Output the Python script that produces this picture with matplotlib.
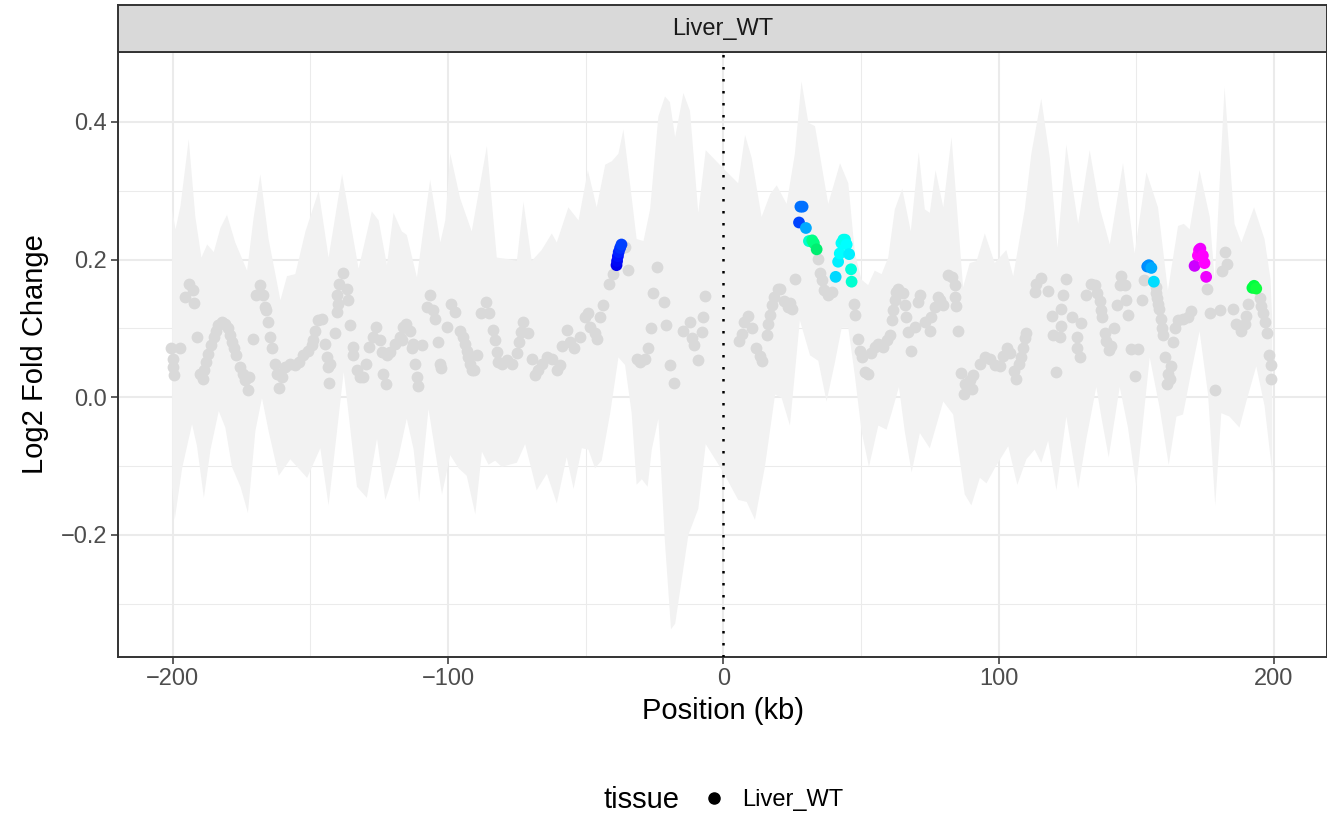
import numpy as np
import matplotlib.pyplot as plt
from matplotlib.lines import Line2D

plt.rcParams['font.family'] = ['Liberation Sans', 'DejaVu Sans']

# ribbon (confidence band)
up_kb = [-200.2, -199.0, -197.2, -194.2, -191.8, -189.6, -187.5, -185.1, -182.7, -180.3, -177.3, -173.0,
         -170.6, -168.2, -165.2, -160.9, -158.5, -155.5, -151.8, -147.0, -143.4, -138.5, -132.5, -127.7,
         -125.2, -122.2, -119.8, -116.8, -115.0, -111.3, -108.9, -106.5, -102.8, -101.0, -99.2, -95.6,
         -91.4, -85.9, -82.3, -78.6, -75.0, -72.6, -69.6, -66.0, -62.3, -60.5, -56.3, -52.6, -49.2, -46.0,
         -42.9, -40.5, -38.1, -36.3, -33.9, -31.5, -29.0, -26.6, -23.6, -21.2, -19.4, -17.5, -14.5, -12.1,
         -9.1, -6.4, -0.6, 5.4, 7.9, 10.3, 13.9, 17.0, 19.4, 23.0, 26.0, 28.4, 30.9, 33.3, 38.1, 42.4, 45.4,
         47.8, 50.2, 52.6, 55.0, 57.5, 59.9, 62.3, 65.0, 68.1, 71.0, 73.2, 75.0, 77.1, 79.9, 82.9, 87.1,
         89.5, 92.0, 95.0, 98.6, 102.8, 105.3, 109.5, 111.9, 115.5, 118.6, 121.4, 124.6, 128.9, 133.1,
         136.7, 140.4, 145.2, 149.4, 153.7, 157.9, 161.5, 165.2, 167.3, 169.4, 173.0, 176.7, 178.5, 182.1,
         185.7, 188.2, 192.8, 196.6, 198.8, 199.4]
up_val = [0.273, 0.244, 0.278, 0.375, 0.262, 0.203, 0.222, 0.211, 0.246, 0.265, 0.225, 0.184,
          0.262, 0.324, 0.230, 0.141, 0.176, 0.179, 0.241, 0.300, 0.203, 0.324, 0.187, 0.270,
          0.257, 0.192, 0.268, 0.241, 0.236, 0.174, 0.246, 0.316, 0.225, 0.257, 0.354, 0.289,
          0.241, 0.365, 0.203, 0.201, 0.198, 0.284, 0.198, 0.214, 0.238, 0.225, 0.276, 0.257, 0.330, 0.276,
          0.338, 0.343, 0.354, 0.389, 0.311, 0.230, 0.227, 0.273, 0.408, 0.437, 0.429, 0.378, 0.442, 0.416,
          0.268, 0.359, 0.335, 0.311, 0.381, 0.348, 0.262, 0.295, 0.308, 0.281, 0.354, 0.459, 0.399, 0.394, 0.281, 0.340, 0.311,
          0.209, 0.171, 0.163, 0.184, 0.179, 0.203, 0.273, 0.303, 0.241, 0.356, 0.273, 0.268, 0.330, 0.276, 0.378, 0.160,
          0.195, 0.198, 0.238, 0.195, 0.214, 0.176, 0.273, 0.354, 0.434, 0.348, 0.217, 0.367, 0.252, 0.359,
          0.276, 0.222, 0.340, 0.209, 0.327, 0.276, 0.155, 0.249, 0.252, 0.244, 0.330, 0.262, 0.171, 0.451,
          0.252, 0.225, 0.276, 0.230, 0.171, 0.112]

lo_kb = [-200.2, -199.3, -196.6, -193.0, -191.2, -188.7, -186.3, -183.3, -180.9, -178.5, -175.4, -172.7,
         -170.0, -167.6, -165.2, -161.5, -157.3, -151.2, -146.4, -143.4, -137.9, -133.1, -129.5, -125.8,
         -122.8, -121.6, -118.0, -115.0, -112.5, -110.5, -107.1, -102.2, -99.2, -96.2, -93.2, -90.1, -87.7,
         -85.3, -82.9, -80.5, -75.0, -72.0, -67.8, -64.1, -60.5, -56.9, -54.4, -51.4, -49.0, -46.6, -44.2,
         -41.1, -38.1, -35.7, -33.3, -31.5, -29.6, -27.5, -26.0, -23.6, -21.2, -19.0, -17.5, -12.7, -9.1,
         -6.4, 0.0, 5.4, 8.5, 11.5, 15.1, 18.8, 21.2, 24.2, 27.8, 31.5, 34.5, 37.5, 40.5, 43.0, 45.4, 47.8,
         50.2, 52.9, 56.3, 59.3, 61.1, 63.8, 65.9, 68.4, 71.4, 75.0, 79.9, 83.5, 87.7, 90.1, 93.2, 95.6,
         98.6, 103.5, 106.8, 110.1, 113.1, 115.5, 118.0, 121.0, 124.6, 128.9, 131.9, 135.5, 137.3, 140.0,
         144.0, 147.0, 150.0, 154.9, 158.5, 161.8, 164.6, 167.0, 170.0, 173.0, 176.1, 178.7, 180.9, 183.9,
         187.5, 190.0, 193.6, 196.6, 199.4]
lo_val = [-0.130, -0.178, -0.103, -0.039, -0.071, -0.146, -0.076, -0.020, -0.044, -0.101, -0.130, -0.168,
          -0.049, -0.001, -0.049, -0.114, -0.090, -0.117, -0.074, -0.157, 0.037, -0.130, -0.146, -0.060,
          -0.149, -0.135, -0.087, -0.031, -0.076, -0.152, -0.017, -0.141, -0.084, -0.103, -0.114, -0.170, -0.079,
          -0.098, -0.092, -0.101, -0.095, -0.068, -0.135, -0.111, -0.154, -0.087, -0.133, -0.074, -0.076, -0.103, -0.092,
          -0.023, 0.058, 0.047, -0.023, -0.127, -0.119, -0.130, -0.076, -0.031, -0.211, -0.337, -0.329, -0.200, -0.162,
          -0.068, -0.109, -0.149, -0.152, -0.178, -0.101, 0.004, -0.001, -0.041, 0.112, 0.061, 0.053, -0.006, 0.050, 0.101, 0.101, 0.031,
          -0.049, -0.101, -0.041, -0.047, -0.023, 0.015, -0.049, -0.109, -0.052, -0.074, -0.006, -0.025, -0.141, -0.157, -0.117, -0.125,
          -0.103, -0.071, -0.127, -0.090, -0.076, -0.095, -0.063, -0.135, -0.028, -0.133, -0.060, 0.015, -0.028, -0.087,
          0.015, -0.044, -0.130, 0.058, -0.015, -0.098, -0.028, -0.025, 0.037, 0.096, 0.004, -0.157, -0.023, -0.028,
          -0.044, -0.006, 0.045, -0.012, -0.109]

# background (non-significant) windows
grey_kb = [-200.5, -200.0, -199.8, -199.5, -197.3, -195.5, -194.0, -192.8, -192.3, -191.3, -190.1, -189.1,
           -188.6, -187.9, -187.1, -186.2, -185.2, -184.3, -183.4, -182.2, -181.0, -180.0, -179.2, -178.6, -177.7, -177.0,
           -175.6, -174.6, -173.8, -172.5, -172.2, -170.7, -169.8, -168.3, -167.1, -166.5, -166.1, -165.3, -164.7, -164.1,
           -162.9, -162.3, -161.3, -160.4, -159.2, -157.4, -155.6, -154.0, -152.6, -150.7, -149.5,
           -148.9, -148.3, -147.1, -145.9, -144.7, -144.1, -143.6, -142.9, -143.1, -141.1,
           -140.5, -139.9, -140.3, -139.5, -138.0, -136.8, -136.2, -135.6, -134.7, -134.4, -133.2, -132.0, -131.0, -129.8,
           -128.6, -127.4, -126.2, -124.8, -124.1, -122.3, -121.1, -123.5, -122.6,
           -119.3, -117.5, -116.3, -115.1, -113.9, -112.9, -116.8, -113.1, -112.1, -111.4, -110.8,
           -109.5, -107.7, -106.5, -105.3, -104.7, -103.8, -102.8, -102.5, -100.4, -98.8, -97.4,
           -95.6, -94.7, -93.8, -93.2, -92.6, -91.9, -91.3, -90.4, -89.5, -88.0, -86.3, -85.1,
           -83.8, -83.1, -82.3, -81.7, -80.5, -78.7, -76.8, -75.0, -74.2, -73.4, -72.6, -70.8,
           -69.6, -68.4, -67.2, -66.0, -64.1, -62.3, -60.5, -59.3, -58.7, -56.9, -55.6, -54.4, -52.0,
           -50.2, -49.3, -48.4, -46.6, -46.0, -44.8, -43.6, -41.4, -39.9, -35.9, -34.5,
           -31.4, -30.2, -28.3, -27.2, -26.3, -25.4, -24.0, -21.5, -20.8, -19.4, -17.8,
           -14.5, -12.1, -11.2, -10.5, -9.1, -7.6, -7.3, -6.7,
           5.7, 6.7, 7.6, 9.1, 10.3, 11.7, 13.3, 14.0, 15.7, 16.3, 16.9, 17.8, 18.5, 19.7, 20.6, 22.1, 23.6, 24.8, 24.4,
           26.0, 34.5, 35.1, 35.7, 36.7, 38.1, 39.3,
           47.5, 47.8, 48.8, 49.6, 50.2, 51.4, 52.6, 53.8, 55.1, 56.3, 58.1, 59.3, 60.5, 61.1, 61.7, 62.3, 62.9, 63.5,
           65.3, 66.0, 66.5, 67.2, 68.1, 69.6, 70.8, 71.4, 73.2, 75.0, 75.6, 76.8, 78.0, 78.7, 79.9,
           81.7, 82.9, 84.1, 84.3, 84.7, 85.3, 86.5, 87.7, 87.5, 89.5, 90.7, 90.4,
           93.2, 95.0, 96.8, 98.6, 100.4, 101.6, 103.0, 104.3, 105.5, 106.5, 107.3, 108.1, 108.9, 109.5, 110.1,
           113.1, 113.7, 115.5, 118.0, 119.4, 119.8, 121.0, 122.2, 122.6, 122.8, 123.4, 124.6, 126.7,
           128.3, 128.6, 129.8, 129.5,
           131.9, 133.7, 134.9, 135.9, 136.7, 137.3, 137.6, 138.5, 139.1, 140.0, 141.0, 141.9, 143.1, 144.0, 144.4,
           145.8, 146.4, 147.0, 148.0, 150.6, 149.4, 152.2, 152.8,
           157.0, 157.3, 157.7, 157.9, 158.1, 158.9, 159.3, 159.7, 160.6, 162.5, 161.5, 162.1, 161.3,
           163.3, 164.2, 165.2, 167.0, 168.8, 169.8,
           175.8, 176.7, 180.3, 178.7, 182.1, 183.1, 181.1, 185.1, 186.3, 188.2, 189.4, 190.0, 190.6,
           194.8, 195.4, 196.0, 196.9, 197.6, 198.4, 198.8, 199.0]
grey_lfc = [0.072, 0.056, 0.044, 0.032, 0.072, 0.146, 0.165, 0.156, 0.137, 0.088, 0.034, 0.027,
            0.039, 0.051, 0.063, 0.076, 0.088, 0.097, 0.105, 0.110, 0.107, 0.100, 0.090, 0.080, 0.071, 0.061,
            0.044, 0.034, 0.025, 0.010, 0.030, 0.085, 0.148, 0.163, 0.148, 0.131, 0.127, 0.110, 0.088, 0.071,
            0.049, 0.034, 0.013, 0.030, 0.044, 0.049, 0.047, 0.051, 0.061, 0.068, 0.076,
            0.083, 0.097, 0.113, 0.114, 0.078, 0.059, 0.044, 0.049, 0.021, 0.093,
            0.124, 0.136, 0.148, 0.165, 0.180, 0.158, 0.141, 0.105, 0.073, 0.061, 0.039, 0.030, 0.030, 0.049,
            0.073, 0.088, 0.102, 0.083, 0.066, 0.061, 0.066, 0.034, 0.020,
            0.078, 0.088, 0.102, 0.107, 0.097, 0.078, 0.083, 0.071, 0.049, 0.030, 0.017,
            0.076, 0.131, 0.148, 0.127, 0.114, 0.080, 0.049, 0.042, 0.102, 0.136, 0.124,
            0.097, 0.088, 0.078, 0.068, 0.059, 0.049, 0.039, 0.040, 0.061, 0.122, 0.139, 0.122,
            0.098, 0.083, 0.066, 0.051, 0.049, 0.054, 0.049, 0.064, 0.080, 0.095, 0.110, 0.094,
            0.056, 0.032, 0.039, 0.049, 0.059, 0.056, 0.039, 0.047, 0.074, 0.098, 0.080, 0.071, 0.088,
            0.117, 0.122, 0.102, 0.093, 0.085, 0.117, 0.134, 0.164, 0.179, 0.219, 0.185,
            0.056, 0.052, 0.056, 0.072, 0.100, 0.152, 0.190, 0.139, 0.105, 0.047, 0.021,
            0.097, 0.110, 0.086, 0.076, 0.054, 0.095, 0.117, 0.147,
            0.082, 0.092, 0.110, 0.118, 0.100, 0.072, 0.060, 0.053, 0.090, 0.107, 0.119, 0.134, 0.146, 0.157, 0.158, 0.140, 0.131, 0.129, 0.137,
            0.172, 0.201, 0.181, 0.171, 0.156, 0.148, 0.153,
            0.135, 0.119, 0.085, 0.068, 0.059, 0.037, 0.034, 0.064, 0.073, 0.078, 0.073, 0.083, 0.090, 0.112, 0.127, 0.141, 0.153, 0.158,
            0.151, 0.134, 0.117, 0.095, 0.067, 0.102, 0.139, 0.148, 0.110, 0.097, 0.117, 0.131, 0.146, 0.141, 0.134,
            0.177, 0.175, 0.163, 0.146, 0.132, 0.096, 0.035, 0.020, 0.005, 0.025, 0.032, 0.012,
            0.049, 0.059, 0.055, 0.047, 0.045, 0.060, 0.071, 0.065, 0.038, 0.027, 0.048, 0.058, 0.072, 0.086, 0.093,
            0.153, 0.165, 0.173, 0.155, 0.118, 0.090, 0.037, 0.088, 0.104, 0.129, 0.148, 0.172, 0.117,
            0.088, 0.072, 0.108, 0.058,
            0.148, 0.165, 0.163, 0.152, 0.140, 0.127, 0.117, 0.093, 0.082, 0.069, 0.075, 0.100, 0.134, 0.163, 0.176,
            0.163, 0.142, 0.119, 0.070, 0.070, 0.031, 0.141, 0.171,
            0.160, 0.152, 0.144, 0.136, 0.128, 0.114, 0.101, 0.090, 0.058, 0.045, 0.034, 0.027, 0.019,
            0.080, 0.101, 0.112, 0.114, 0.117, 0.126,
            0.158, 0.122, 0.127, 0.010, 0.211, 0.194, 0.184, 0.129, 0.106, 0.096, 0.106, 0.118, 0.136,
            0.144, 0.133, 0.123, 0.110, 0.093, 0.061, 0.047, 0.027]

# significant windows, coloured by cluster
hit_kb = [-38.8, -38.6, -38.3, -38.0, -37.5, -37.0,
          27.5, 28.0, 28.8, 30.0, 31.1, 32.3, 32.9, 33.9,
          40.8, 41.7, 42.3, 42.9, 43.6, 44.2, 44.8, 45.7, 46.4, 46.6,
          154.0, 154.6, 155.5, 156.4,
          171.2, 172.4, 172.8, 173.3, 174.2, 174.8, 175.4,
          192.2, 192.8, 193.6]
hit_lfc = [0.192, 0.198, 0.205, 0.211, 0.217, 0.222,
           0.254, 0.277, 0.277, 0.246, 0.227, 0.228, 0.224, 0.215,
           0.175, 0.197, 0.209, 0.224, 0.229, 0.229, 0.222, 0.208, 0.186, 0.168,
           0.190, 0.192, 0.188, 0.168,
           0.191, 0.206, 0.214, 0.216, 0.206, 0.195, 0.175,
           0.159, 0.162, 0.158]
hit_col = ['#0000EE', '#0008F5', '#0010FF', '#0020FF', '#0030FF', '#0040FF',
           '#0044FF', '#0070FF', '#0070FF', '#00AAFF', '#00FFCC', '#00FF88', '#00FF80', '#00EE70',
           '#00D8FF', '#00F0FF', '#00FFFF', '#00FFFF', '#00FFF0', '#00FFF0', '#00FFFF', '#00F0FF', '#00FFDD', '#00FFD0',
           '#0088FF', '#0090FF', '#00AAFF', '#00DDFF',
           '#CC00FF', '#FF00FF', '#FF00FF', '#F000FF', '#FF00FF', '#FF00FF', '#EE00FF',
           '#00FF44', '#00FF40', '#10FF40']

W, H = 1327, 814
fig = plt.figure(figsize=(W / 100, H / 100), dpi=100)
ax = fig.add_axes([118 / W, 157 / H, (W - 118) / W, 605 / H])

ax.set_axisbelow(True)
ax.fill(np.concatenate([up_kb, lo_kb[::-1]]), np.concatenate([up_val, lo_val[::-1]]),
        color='#F2F2F2', lw=0, zorder=1)
ax.scatter(grey_kb, grey_lfc, s=72, color='#D9D9D9', linewidths=0, zorder=2)
ax.scatter(hit_kb, hit_lfc, s=72, c=hit_col, linewidths=0, zorder=3)
ax.axvline(0, color='black', lw=1.8, ls=(0, (1, 3.8)), zorder=4)

ax.set_xlim(-219.9, 219.3)
ax.set_ylim(-0.3773, 0.5017)
ax.set_xticks([-200, -100, 0, 100, 200])
ax.set_xticks([-150, -50, 50, 150], minor=True)
ax.set_yticks([-0.2, 0.0, 0.2, 0.4])
ax.set_yticks([-0.3, -0.1, 0.1, 0.3], minor=True)
ax.set_yticklabels(['\u22120.2', '0.0', '0.2', '0.4'])
ax.set_xticklabels(['\u2212200', '\u2212100', '0', '100', '200'])
ax.grid(which='major', color='#EBEBEB', lw=1.5)
ax.grid(which='minor', color='#EBEBEB', lw=0.75)
ax.tick_params(which='major', length=5, width=1.1, color='#333333', labelsize=17,
               labelcolor='#4D4D4D', pad=3)
ax.tick_params(which='minor', length=0)
for sp in ax.spines.values():
    sp.set_color('#333333')
    sp.set_linewidth(1.4)
ax.set_xlabel('Position (kb)', fontsize=21, labelpad=5)
ax.set_ylabel('Log2 Fold Change', fontsize=21, labelpad=8)

# facet strip
strip = fig.add_axes([118 / W, 762 / H, (W - 118) / W, 47 / H])
strip.set_facecolor('#D9D9D9')
strip.set_xticks([])
strip.set_yticks([])
for sp in strip.spines.values():
    sp.set_color('#333333')
    sp.set_linewidth(1.4)
strip.text(0.5, 0.5, 'Liver_WT', ha='center', va='center', fontsize=17, color='#1A1A1A',
           transform=strip.transAxes)

# legend at the bottom
fig.text(603 / W, 14 / H, 'tissue', ha='left', va='center', fontsize=21)
handle = Line2D([], [], marker='o', ls='', color='black', markersize=8)
fig.legend([handle], ['Liver_WT'], loc='center left', bbox_to_anchor=(702 / W, 14 / H),
           frameon=False, fontsize=17, handlelength=1.0, handletextpad=0.68,
           borderpad=0, borderaxespad=0)

fig.savefig('out.png', dpi=100)
